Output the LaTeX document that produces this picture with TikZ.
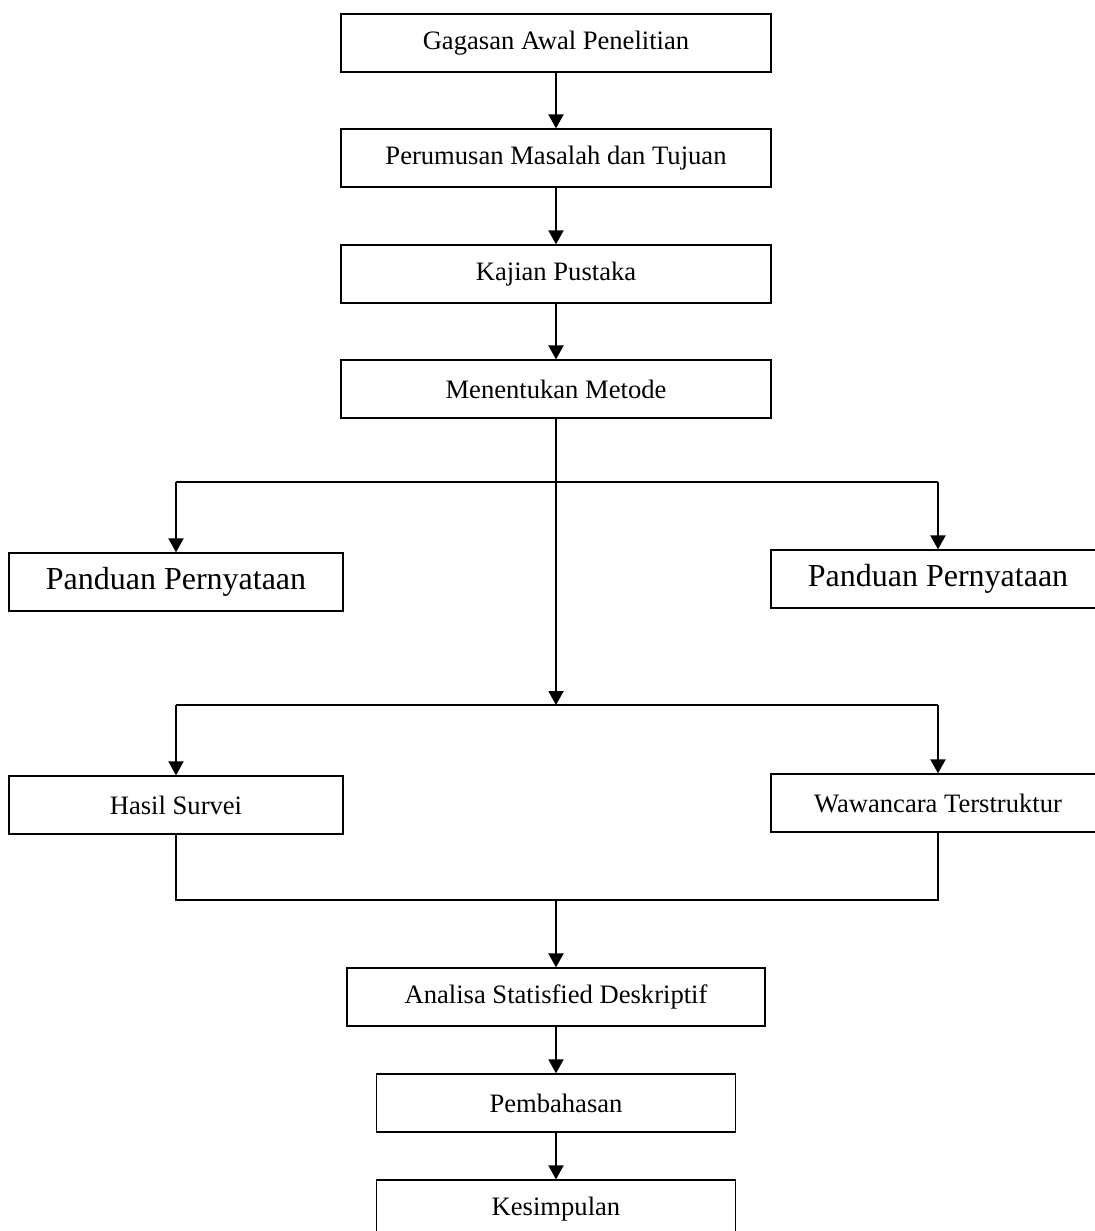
\documentclass[tikz,border=0pt]{standalone}
\usepackage{fontspec}
\setmainfont{Liberation Serif}
\usetikzlibrary{arrows.meta}
\begin{document}
\begin{tikzpicture}[x=0.5pt,y=-0.5pt,
  box/.style={draw,line width=0.65pt,inner sep=0pt,minimum height=29pt,font=\fontsize{13.3}{16}\selectfont},
  bigbox/.style={box,font=\fontsize{16}{19}\selectfont},
  conn/.style={line width=1pt},
  arr/.style={conn,-{Triangle[length=7pt,width=7.5pt]}}]
\useasboundingbox (0,0) rectangle (1094,1231);
% main column
\node[box,minimum width=215pt] (n1) at (556,43) {Gagasan Awal Penelitian};
\node[box,minimum width=215pt] (n2) at (556,158) {Perumusan Masalah dan Tujuan};
\node[box,minimum width=215pt] (n3) at (556,274) {Kajian Pustaka};
\node[box,minimum width=215pt] (n4) at (556,389) {Menentukan Metode};
% side boxes
\node[bigbox,minimum width=167pt] (pl) at (176,582) {Panduan Pernyataan};
\node[bigbox,minimum width=167pt] (pr) at (938,579) {Panduan Pernyataan};
\node[box,minimum width=167pt] (hs) at (176,805) {Hasil Survei};
\node[box,minimum width=167pt] (ww) at (938,803) {Wawancara Terstruktur};
% lower column
\node[box,minimum width=209pt] (an) at (556,997) {Analisa Statisfied Deskriptif};
\node[box,minimum width=179.5pt] (pb) at (556,1103) {Pembahasan};
\node[box,minimum width=179.5pt] (ks) at (556,1209) {Kesimpulan};
% junctions
\coordinate (j1) at (556,482);
\coordinate (j1l) at (176,482);
\coordinate (j1r) at (938,482);
\coordinate (j2) at (556,705);
\coordinate (j2l) at (176,705);
\coordinate (j2r) at (938,705);
\coordinate (j3) at (556,900);
\coordinate (j3l) at (176,900);
\coordinate (j3r) at (938,900);
% connectors
\draw[arr] (n1.south) -- (n2.north);
\draw[arr] (n2.south) -- (n3.north);
\draw[arr] (n3.south) -- (n4.north);
\draw[arr] (n4.south) -- (j2);
\draw[conn] (j1l) -- (j1r);
\draw[arr] (j1l) -- (pl.north);
\draw[arr] (j1r) -- (pr.north);
\draw[conn] (j2l) -- (j2r);
\draw[arr] (j2l) -- (hs.north);
\draw[arr] (j2r) -- (ww.north);
\draw[conn] (hs.south) -- (j3l) -- (j3r) -- (ww.south);
\draw[arr] (j3) -- (an.north);
\draw[arr] (an.south) -- (pb.north);
\draw[arr] (pb.south) -- (ks.north);
\end{tikzpicture}
\end{document}
